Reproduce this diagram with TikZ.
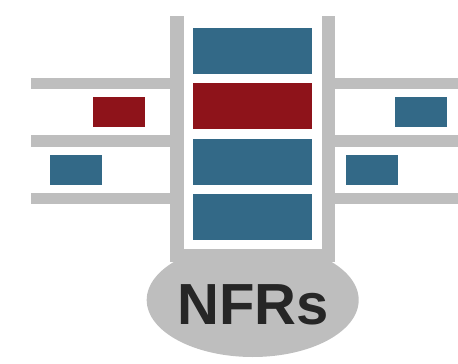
\documentclass[tikz,border=0pt]{standalone}
\usepackage{fontspec}
\setmainfont{Liberation Sans}
\definecolor{shelf}{HTML}{BEBEBE}
\definecolor{boxblue}{HTML}{336987}
\definecolor{boxred}{HTML}{8E131A}
\definecolor{txt}{HTML}{262626}
\begin{document}
\begin{tikzpicture}[x=1pt,y=-1pt,
  gray/.style={fill=shelf},
  bluebox/.style={fill=boxblue},
  redbox/.style={fill=boxred}]
\useasboundingbox (0,0) rectangle (458,364);
% ellipse base
\fill[gray] (252.7,300) ellipse [x radius=106, y radius=57];
% inner white area of the frame
\fill[white] (183.7,16) rectangle (322,248.7);
% frame
\fill[gray] (170.3,16) rectangle (183.7,262);
\fill[gray] (322,16) rectangle (335,262);
\fill[gray] (170.3,248.7) rectangle (335,262);
% left shelves
\fill[gray] (31,77.7) rectangle (171,89);
\fill[gray] (31,135.3) rectangle (171,146.7);
\fill[gray] (31,193) rectangle (171,204.3);
% right shelves
\fill[gray] (334,77.7) rectangle (458,89);
\fill[gray] (334,135.3) rectangle (458,146.7);
\fill[gray] (334,193) rectangle (458,204.3);
% middle stack
\fill[bluebox] (193,28) rectangle (312,74);
\fill[redbox] (193,83) rectangle (312,129);
\fill[bluebox] (193,139) rectangle (312,184.7);
\fill[bluebox] (193,194) rectangle (312,240);
% side boxes
\fill[redbox] (93,97) rectangle (145,127);
\fill[bluebox] (50,155) rectangle (102,185);
\fill[bluebox] (395,97) rectangle (447,127);
\fill[bluebox] (346,155) rectangle (398,185);
% label
\node[text=txt, font=\fontsize{58}{58}\selectfont\bfseries, inner sep=0pt, anchor=base] (lbl) at (253,324.7) {NFRs};
\end{tikzpicture}
\end{document}
